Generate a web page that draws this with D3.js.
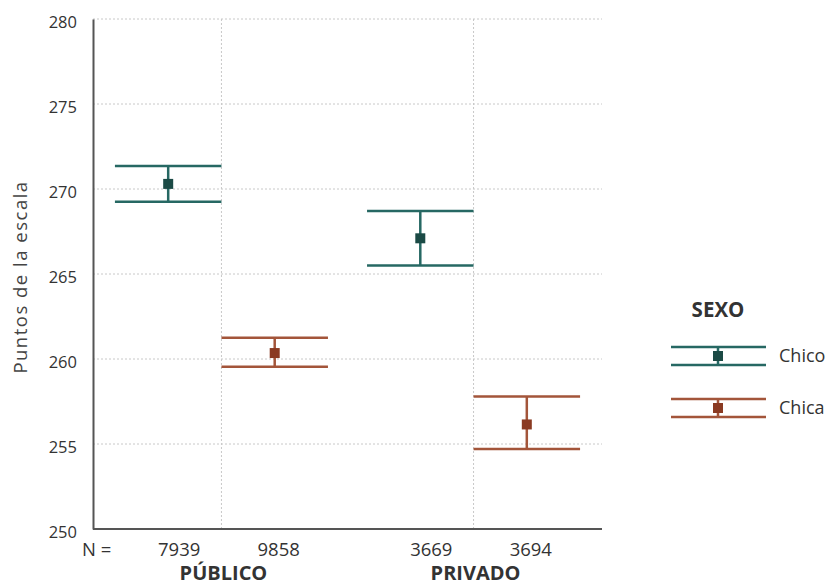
<!DOCTYPE html>
<html><head><meta charset="utf-8">
<script src="https://cdn.jsdelivr.net/npm/d3@7"></script>
<style>body{margin:0;background:#fff}text{font-family:"Open Sans","Noto Sans",sans-serif}</style>
</head><body><svg id="c" width="830" height="588"></svg>
<script>
const groups = ["PÚBLICO", "PRIVADO"];
const sexes = ["Chico", "Chica"];
const nLabels = [["7939", "9858"], ["3669", "3694"]];
const means = [[270.3, 260.35], [267.1, 256.15]];
const upper = [[271.35, 261.25], [268.7, 257.8]];
const lower = [[269.25, 259.55], [265.5, 254.7]];
const yTicks = [250, 255, 260, 265, 270, 275, 280];
const lineColors = ["#266863", "#a3553a"];
const markColors = ["#1b4a45", "#8a3a22"];

const svg = d3.select("#c");
const pLeft = 93, pRight = 602, pTop = 19, pBottom = 529;
const y = d3.scaleLinear().domain([250, 280]).range([pBottom, pTop]);
const xg = d3.scaleBand().domain(groups).range([pLeft, pRight]).paddingInner(0.155).paddingOuter(0.087);
const xs = d3.scaleBand().domain(sexes).range([0, xg.bandwidth()]);
const nOffset = [11, 4];

// grid
const grid = svg.append("g");
grid.selectAll("line.h").data(yTicks.filter(t => t > 250)).join("line")
  .attr("x1", pLeft).attr("x2", pRight).attr("y1", d => y(d)).attr("y2", d => y(d))
  .attr("stroke", "#c8c8c8").attr("stroke-width", 1).attr("stroke-dasharray", "2,2");
grid.selectAll("line.v").data(groups).join("line")
  .attr("x1", d => xg(d) + xg.bandwidth() / 2).attr("x2", d => xg(d) + xg.bandwidth() / 2)
  .attr("y1", pTop).attr("y2", pBottom)
  .attr("stroke", "#c8c8c8").attr("stroke-width", 1).attr("stroke-dasharray", "2,2");

// y axis
const yAxis = svg.append("g").attr("transform", `translate(${pLeft},0)`)
  .call(d3.axisLeft(y).tickValues(yTicks).tickSize(0).tickPadding(16));
yAxis.select(".domain").attr("stroke", "#555").attr("stroke-width", 2);
yAxis.selectAll("text").attr("font-size", 16.5).attr("fill", "#333").attr("dy", "0.5em");
// x axis line
svg.append("line").attr("x1", pLeft).attr("x2", pRight).attr("y1", pBottom).attr("y2", pBottom)
  .attr("stroke", "#555").attr("stroke-width", 2);

svg.append("text").attr("transform", `translate(27,277) rotate(-90)`)
  .attr("text-anchor", "middle").attr("font-size", 18.5).attr("letter-spacing", 1.5)
  .attr("fill", "#444").text("Puntos de la escala");

// error bars
groups.forEach((g, gi) => {
  sexes.forEach((s, si) => {
    const x0 = xg(g) + xs(s), w = xs.bandwidth(), cx = x0 + w / 2;
    const gg = svg.append("g");
    [upper[gi][si], lower[gi][si]].forEach(v => {
      gg.append("line").attr("x1", x0).attr("x2", x0 + w).attr("y1", y(v)).attr("y2", y(v))
        .attr("stroke", lineColors[si]).attr("stroke-width", 2.5);
    });
    gg.append("line").attr("x1", cx).attr("x2", cx).attr("y1", y(upper[gi][si])).attr("y2", y(lower[gi][si]))
      .attr("stroke", lineColors[si]).attr("stroke-width", 2.5);
    gg.append("rect").attr("x", cx - 5).attr("y", y(means[gi][si]) - 5).attr("width", 10).attr("height", 10)
      .attr("fill", markColors[si]);
    svg.append("text").attr("x", cx + nOffset[si]).attr("y", pBottom + 27).attr("text-anchor", "middle")
      .attr("font-size", 18.5).attr("fill", "#333").text(nLabels[gi][si]);
  });
  svg.append("text").attr("x", xg(g) + xg.bandwidth() / 2 + 2).attr("y", pBottom + 51).attr("text-anchor", "middle")
    .attr("font-size", 20).attr("font-weight", "bold").attr("fill", "#333").text(g);
});
svg.append("text").attr("x", 82).attr("y", pBottom + 27).attr("font-size", 18.5).attr("fill", "#333").text("N =");

// legend
const lg = svg.append("g");
lg.append("text").attr("x", 718).attr("y", 317).attr("text-anchor", "middle")
  .attr("font-size", 20.5).attr("font-weight", "bold").attr("fill", "#333").text("SEXO");
sexes.forEach((s, si) => {
  const cy = 356 + si * 52;
  [cy - 9, cy + 9].forEach(yy => lg.append("line").attr("x1", 671).attr("x2", 766).attr("y1", yy).attr("y2", yy)
    .attr("stroke", lineColors[si]).attr("stroke-width", 2.5));
  lg.append("line").attr("x1", 718).attr("x2", 718).attr("y1", cy - 9).attr("y2", cy + 9)
    .attr("stroke", lineColors[si]).attr("stroke-width", 2.5);
  lg.append("rect").attr("x", 713).attr("y", cy - 5).attr("width", 10).attr("height", 10).attr("fill", markColors[si]);
  lg.append("text").attr("x", 779).attr("y", cy + 6).attr("font-size", 18).attr("fill", "#333").text(s);
});
</script></body></html>
